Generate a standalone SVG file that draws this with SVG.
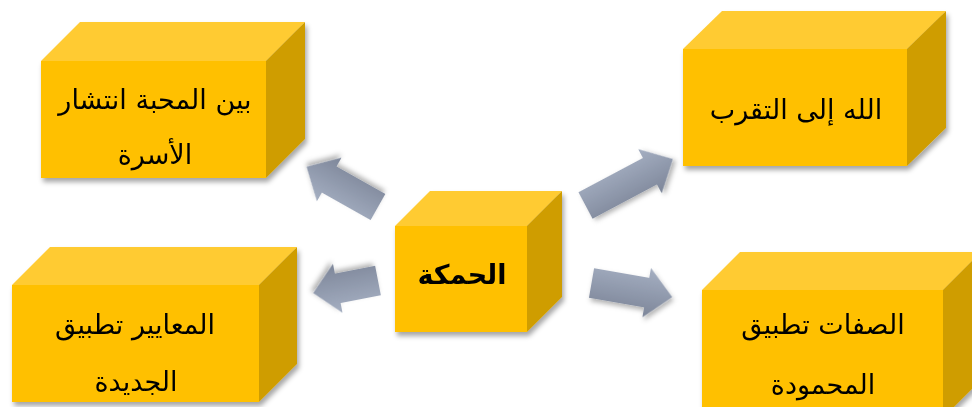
<svg xmlns="http://www.w3.org/2000/svg" width="972" height="407" viewBox="0 0 972 407">
<defs>
<style>
.front{fill:#FFC000}
.top{fill:#FFCB30}
.side{fill:#CF9D00}
.box{filter:url(#bshadow)}
.lbl{font-family:"DejaVu Sans",sans-serif;font-size:27px;fill:#000;text-anchor:middle;direction:rtl}
.arr{fill:url(#ag);filter:url(#ashadow)}
</style>
<filter id="bshadow" x="-20%" y="-20%" width="140%" height="150%">
<feDropShadow dx="2" dy="4" stdDeviation="2.5" flood-color="#000" flood-opacity="0.35"/>
</filter>
<filter id="ashadow" x="-30%" y="-50%" width="160%" height="200%">
<feDropShadow dx="2" dy="3" stdDeviation="2.5" flood-color="#000" flood-opacity="0.3"/>
</filter>
<linearGradient id="ag" gradientUnits="userSpaceOnUse" x1="0" y1="-25" x2="0" y2="25">
<stop offset="0" stop-color="#A5AFC2"/>
<stop offset="1" stop-color="#7D8699"/>
</linearGradient>
</defs>
<rect width="972" height="407" fill="#fff"/>

<g id="connectors">
<g transform="translate(378,207) rotate(209.4)"><polygon class="arr" points="0,-15 56,-15 56,-25 82,0 56,25 56,15 0,15"/></g>
<g transform="translate(585.5,205.5) rotate(-28)"><polygon class="arr" points="0,-15 73,-15 73,-25 99,0 73,25 73,15 0,15"/></g>
<g transform="translate(378,280.5) rotate(169)"><polygon class="arr" points="0,-15 41,-15 41,-25 66,0 41,25 41,15 0,15"/></g>
<g transform="translate(591.5,283) rotate(9.9)"><polygon class="arr" points="0,-15 56,-15 56,-25 82,0 56,25 56,15 0,15"/></g>
</g>

<g id="node-top-left" class="box">
<polygon class="top" points="41,61 80,22 305,22 266,61"/>
<polygon class="side" points="266,61 305,22 305,139 266,178"/>
<rect class="front" x="41" y="61" width="225" height="117"/>
<text class="lbl" x="155" y="109">بين المحبة انتشار</text>
<text class="lbl" x="155" y="164">الأسرة</text>
</g>

<g id="node-top-right" class="box">
<polygon class="top" points="683,49 722,11 946,11 907,49"/>
<polygon class="side" points="907,49 946,11 946,128 907,166"/>
<rect class="front" x="683" y="49" width="224" height="117"/>
<text class="lbl" x="796" y="119">الله إلى التقرب</text>
</g>

<g id="node-center" class="box">
<polygon class="top" points="395,226 430,191 562,191 527,226"/>
<polygon class="side" points="527,226 562,191 562,297 527,332"/>
<rect class="front" x="395" y="226" width="132" height="106"/>
<text class="lbl" x="462" y="284" font-weight="bold">الحمكة</text>
</g>

<g id="node-bottom-left" class="box">
<polygon class="top" points="12,285 50,247 297,247 259,285"/>
<polygon class="side" points="259,285 297,247 297,364 259,402"/>
<rect class="front" x="12" y="285" width="247" height="117"/>
<text class="lbl" x="135" y="334">المعايير تطبيق</text>
<text class="lbl" x="136" y="391">الجديدة</text>
</g>

<g id="node-bottom-right" class="box">
<polygon class="top" points="702,290 740,252 981,252 943,290"/>
<polygon class="side" points="943,290 981,252 981,380 943,418"/>
<rect class="front" x="702" y="290" width="241" height="128"/>
<text class="lbl" x="823" y="334">الصفات تطبيق</text>
<text class="lbl" x="823" y="394">المحمودة</text>
</g>
</svg>
